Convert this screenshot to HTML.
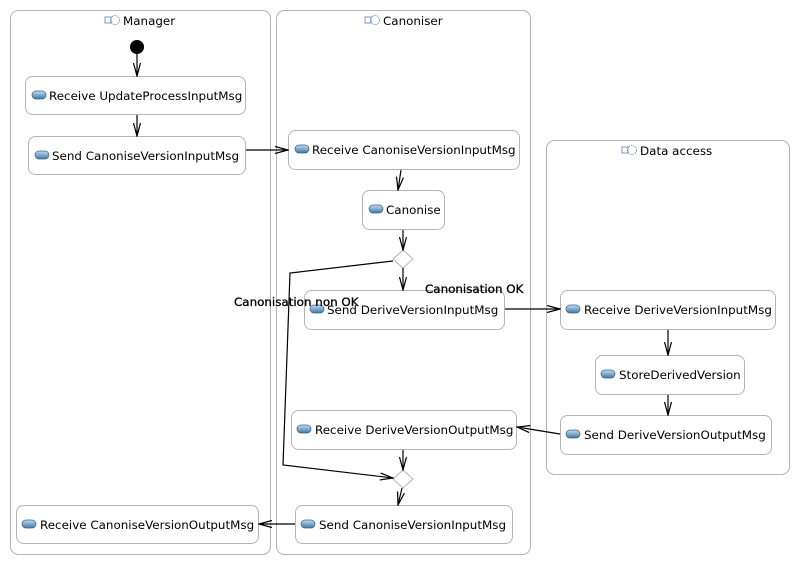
<!DOCTYPE html>
<html><head><meta charset="utf-8"><style>
html,body{margin:0;padding:0;background:#fff;}
svg{display:block;}
text{font-family:"DejaVu Sans","Liberation Sans",sans-serif;font-size:11.9px;fill:#000;}
.p{fill:#fff;stroke:#b4b4b4;stroke-width:1;}
.n{fill:#fff;stroke:#b4b4b4;stroke-width:1;}
.e{stroke:#000;stroke-width:1.2;fill:none;}
</style></head><body>
<svg width="801" height="566" viewBox="0 0 801 566" xmlns="http://www.w3.org/2000/svg">
<defs>
<marker id="a" markerWidth="14" markerHeight="10" refX="13" refY="5" orient="auto" markerUnits="userSpaceOnUse">
<path d="M0,1.5 L13,5 L0,8.5" fill="none" stroke="#000" stroke-width="1.2"/>
</marker>
<linearGradient id="g" x1="0" y1="0" x2="0" y2="1"><stop offset="0" stop-color="#c4dcf0"/><stop offset="1" stop-color="#3f78a8"/></linearGradient>
<g id="ic"><rect x="0" y="0" width="14" height="8" rx="4" fill="url(#g)" stroke="#36618c" stroke-width="0.7"/></g>
<g id="pi"><rect x="0" y="2" width="6" height="6" fill="none" stroke="#5a7fa8" stroke-width="0.8"/><circle cx="10" cy="5" r="4.5" fill="none" stroke="#5a7fa8" stroke-width="0.8" stroke-dasharray="1.5,1"/></g>
</defs>

<rect class="p" x="10.5" y="10.5" width="260" height="544" rx="8"/>
<rect class="p" x="276.5" y="10.5" width="254" height="544" rx="8"/>
<rect class="p" x="546.5" y="140.5" width="243" height="334" rx="8"/>
<use href="#pi" x="105" y="15"/><text x="123" y="25">Manager</text>
<use href="#pi" x="365" y="15"/><text x="383" y="25">Canoniser</text>
<use href="#pi" x="622" y="145"/><text x="640" y="155">Data access</text>

<circle cx="137" cy="47" r="7" fill="#000"/>

<rect class="n" x="25.5" y="76.5" width="220" height="38" rx="7"/><use href="#ic" x="32" y="91"/><text x="49" y="100">Receive UpdateProcessInputMsg</text>
<rect class="n" x="28.5" y="136.5" width="217" height="38" rx="7"/><use href="#ic" x="35" y="151"/><text x="52" y="160">Send CanoniseVersionInputMsg</text>
<rect class="n" x="16.5" y="505.5" width="242" height="38" rx="7"/><use href="#ic" x="22" y="520"/><text x="40" y="529">Receive CanoniseVersionOutputMsg</text>

<rect class="n" x="288.5" y="130.5" width="231" height="39" rx="7"/><use href="#ic" x="295" y="145"/><text x="312" y="154">Receive CanoniseVersionInputMsg</text>
<rect class="n" x="362.5" y="190.5" width="82" height="39" rx="7"/><use href="#ic" x="369" y="205"/><text x="386" y="214">Canonise</text>
<rect class="n" x="304.5" y="290.5" width="200" height="39" rx="7"/><use href="#ic" x="310" y="305"/><text x="327" y="314">Send DeriveVersionInputMsg</text>
<rect class="n" x="291.5" y="410.5" width="225" height="39" rx="7"/><use href="#ic" x="297" y="425"/><text x="315" y="434">Receive DeriveVersionOutputMsg</text>
<rect class="n" x="295.5" y="505.5" width="217" height="38" rx="7"/><use href="#ic" x="301" y="520"/><text x="319" y="529">Send CanoniseVersionInputMsg</text>

<rect class="n" x="560.5" y="290.5" width="215" height="39" rx="7"/><use href="#ic" x="566" y="305"/><text x="584" y="314">Receive DeriveVersionInputMsg</text>
<rect class="n" x="595.5" y="355.5" width="149" height="39" rx="7"/><use href="#ic" x="601" y="370"/><text x="619" y="379">StoreDerivedVersion</text>
<rect class="n" x="560.5" y="415.5" width="211" height="39" rx="7"/><use href="#ic" x="566" y="430"/><text x="584" y="439">Send DeriveVersionOutputMsg</text>

<polygon points="403,250 413,259 403,268 393,259" fill="#fff" stroke="#b4b4b4"/>
<polygon points="403,470 413,479 403,488 393,479" fill="#fff" stroke="#b4b4b4"/>

<line class="e" x1="137" y1="54" x2="137" y2="76" marker-end="url(#a)"/>
<line class="e" x1="137" y1="115" x2="137" y2="136" marker-end="url(#a)"/>
<line class="e" x1="246" y1="150" x2="288" y2="150" marker-end="url(#a)"/>
<line class="e" x1="401" y1="170" x2="398" y2="190" marker-end="url(#a)"/>
<line class="e" x1="403" y1="230" x2="403" y2="250" marker-end="url(#a)"/>
<line class="e" x1="403" y1="268" x2="403" y2="290" marker-end="url(#a)"/>
<polyline class="e" points="393,261 290,273 283,465 393,478" marker-end="url(#a)"/>
<line class="e" x1="505" y1="309" x2="560" y2="309" marker-end="url(#a)"/>
<line class="e" x1="668" y1="330" x2="668" y2="355" marker-end="url(#a)"/>
<line class="e" x1="668" y1="395" x2="668" y2="415" marker-end="url(#a)"/>
<line class="e" x1="560" y1="434" x2="517" y2="427" marker-end="url(#a)"/>
<line class="e" x1="403" y1="450" x2="403" y2="470" marker-end="url(#a)"/>
<line class="e" x1="402" y1="488" x2="398" y2="505" marker-end="url(#a)"/>
<line class="e" x1="295" y1="524" x2="259" y2="524" marker-end="url(#a)"/>

<text x="425" y="293" stroke="#000" stroke-width="0.3">Canonisation OK</text>
<text x="234" y="306" stroke="#000" stroke-width="0.3">Canonisation non OK</text>
</svg>
</body></html>
